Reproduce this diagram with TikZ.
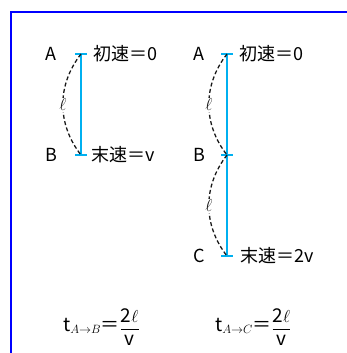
\documentclass[tikz,border=0pt]{standalone}
\usepackage{amsmath}
\usepackage{fontspec}
\setmainfont{Noto Sans CJK JP}
\usetikzlibrary{positioning}
\definecolor{frameblue}{RGB}{0,0,255}
\definecolor{rodblue}{RGB}{0,176,240}
\newcommand{\sublbl}[1]{\raisebox{-2.5pt}{\fontsize{12}{12}\selectfont$#1$}}
\newcommand{\fraclbl}{\raisebox{-3pt}{$\dfrac{\text{2}\ell}{\text{v}}$}}
\tikzset{rod/.style = {rodblue, line width=2.2pt},
  bar/.style = {rodblue, line width=1.6pt},
  span/.style = {gray!20!black, line width=1.3pt, dash pattern=on 4pt off 2.5pt, bend right=38},
  len/.style = {fill=white, inner sep=1pt, font=\fontsize{19}{19}\selectfont},
  lbl/.style = {inner sep=0pt, font=\fontsize{18}{20}\selectfont},
  eqn/.style = {inner sep=0pt, anchor=base west, font=\fontsize{19}{21}\selectfont}}

\begin{document}
\begin{tikzpicture}[x=1pt, y=-1pt]
      \useasboundingbox (0,0) rectangle (347,353);
      \draw[frameblue, line width=2pt] (11,353) -- (11,12) -- (347,12);
      % A -> B
      \coordinate (a1) at (81,54);
      \coordinate (b1) at (81,155);
      \draw[rod] (a1) -- (b1);
      \foreach \p in {a1,b1}
        \draw[bar] ([xshift=-6pt]\p) -- ([xshift=6pt]\p);
      \draw[span] (a1) to node[len] (l1) {$\ell$} (b1);
      \node[lbl] (nA1) at (51,54) {A};
      \node[lbl] (nB1) at (51,155) {B};
      \node[lbl, right=12pt of a1] (v01) {初速＝0};
      \node[lbl, right=10pt of b1] (vB1) {末速＝v};
      % A -> B -> C
      \coordinate (a2) at (227,54);
      \coordinate (b2) at (227,155);
      \coordinate (c2) at (227,256);
      \draw[rod] (a2) -- (c2);
      \foreach \p in {a2,b2,c2}
        \draw[bar] ([xshift=-6pt]\p) -- ([xshift=6pt]\p);
      \draw[span] (a2) to node[len] (l2) {$\ell$} (b2);
      \draw[span] (b2) to node[len] (l3) {$\ell$} (c2);
      \node[lbl] (nA2) at (199,54) {A};
      \node[lbl] (nB2) at (199,155) {B};
      \node[lbl] (nC2) at (199,256) {C};
      \node[lbl, right=12pt of a2] (v02) {初速＝0};
      \node[lbl, right=13pt of c2] (vC2) {末速＝2v};
      % times
      \node[eqn] (tAB) at (63,331) {t\sublbl{A{\to}B}＝\fraclbl};
      \node[eqn] (tAC) at (215,331) {t\sublbl{A{\to}C}＝\fraclbl};
    \end{tikzpicture}
\end{document}
